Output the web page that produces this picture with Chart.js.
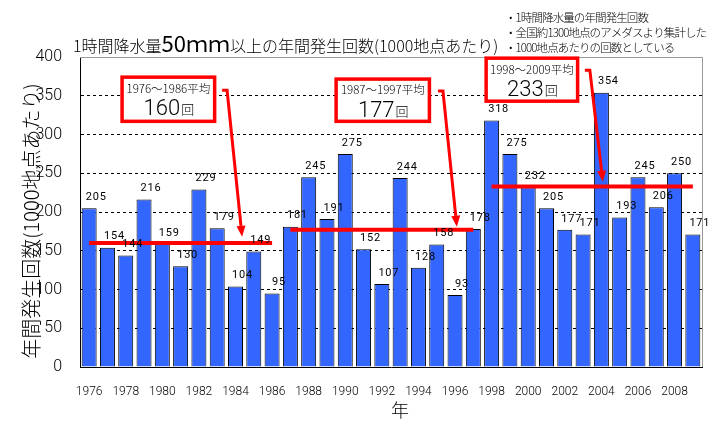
<!DOCTYPE html>
<html>
<head>
<meta charset="utf-8">
<script src="https://cdn.jsdelivr.net/npm/chart.js@4.4.0/dist/chart.umd.min.js"></script>
<style>
html, body { margin: 0; padding: 0; background: #fff; }
</style>
</head>
<body>
<canvas id="rainChart" width="714" height="441"></canvas>
<script>
const years = ['1976','1977','1978','1979','1980','1981','1982','1983','1984','1985','1986',
    '1987','1988','1989','1990','1991','1992','1993','1994','1995','1996','1997',
    '1998','1999','2000','2001','2002','2003','2004','2005','2006','2007','2008','2009'];
const counts = [205,154,144,216,159,130,229,179,104,149,95,
    181,245,191,275,152,107,244,128,158,93,178,
    318,275,232,205,177,171,354,193,245,206,250,171];

// period averages: first / last year index
const periodLabels = ['1976～1986平均', '1987～1997平均', '1998～2009平均'];
const periodAvg = [160, 177, 233];
const periodFrom = [0, 11, 22];
const periodTo = [10, 21, 33];

const notes = ['・1時間降水量の年間発生回数', '・全国約1300地点のアメダスより集計した', '・1000地点あたりの回数としている'];

// callout boxes and arrows, in scale units (category index, value)
const boxes = [
    { x0: 1.8, x1: 6.86, y0: 374, y1: 317, ax0: 7.54, ay0: 357, ax1: 8.36, ay1: 168 },
    { x0: 13.5, x1: 18.6, y0: 371.5, y1: 317, ax0: 19.34, ay0: 356, ax1: 20.1, ay1: 181 },
    { x0: 21.7, x1: 26.7, y0: 398.5, y1: 343, ax0: 27.37, ay0: 383, ax1: 28.08, ay1: 239 }
];

const jp = '"Noto Sans CJK JP", "Noto Sans", sans-serif';
const num = 'Roboto, "Liberation Sans", sans-serif';
Chart.defaults.font.family = num;
Chart.defaults.font.weight = '300';
Chart.defaults.color = '#000';

function avgSeries(p) {
    return years.map((y, i) => (i >= periodFrom[p] && i <= periodTo[p]) ? periodAvg[p] : null);
}

const extras = {
    id: 'extras',
    afterDatasetsDraw(chart) {
        const ctx = chart.ctx;
        const meta = chart.getDatasetMeta(0);
        ctx.save();
        ctx.font = '400 11px ' + num;
        ctx.fillStyle = '#000';
        ctx.textAlign = 'center';
        ctx.textBaseline = 'middle';
        if ('letterSpacing' in ctx) ctx.letterSpacing = '0.8px';
        meta.data.forEach((bar, i) => {
            ctx.fillText(String(counts[i]), bar.x + 7, bar.y - 11);
        });
        ctx.restore();
    },
    afterDraw(chart) {
        const ctx = chart.ctx;
        const a = chart.chartArea;
        const xs = chart.scales.x, ys = chart.scales.y;
        const px = v => xs.getPixelForValue(0) + v * (xs.getPixelForValue(1) - xs.getPixelForValue(0));
        ctx.save();

        // frame
        ctx.lineWidth = 1;
        ctx.strokeStyle = '#999';
        ctx.beginPath();
        ctx.moveTo(a.left, a.top + 0.5); ctx.lineTo(a.right + 0.5, a.top + 0.5);
        ctx.lineTo(a.right + 0.5, a.bottom);
        ctx.stroke();

        // title
        ctx.fillStyle = '#000';
        ctx.textBaseline = 'alphabetic';
        ctx.textAlign = 'left';
        let x = 73;
        const parts = [['1時間降水量', 16, '300 '], ['50ｍｍ', 22, ''], ['以上の年間発生回数(1000地点あたり)', 16, '300 ']];
        parts.forEach(p => {
            ctx.font = p[2] + p[1] + 'px ' + jp;
            ctx.fillText(p[0], x, 52);
            x += ctx.measureText(p[0]).width;
        });

        // notes
        ctx.font = '300 11.5px ' + jp;
        ctx.textBaseline = 'middle';
        if ('letterSpacing' in ctx) ctx.letterSpacing = '-0.9px';
        notes.forEach((t, i) => ctx.fillText(t, 505, 18 + i * 15));
        if ('letterSpacing' in ctx) ctx.letterSpacing = '0px';

        // y title
        ctx.save();
        ctx.translate(31, 221);
        ctx.rotate(-Math.PI / 2);
        ctx.textAlign = 'center';
        ctx.font = '300 20px ' + jp;
        ctx.fillText('年間発生回数(1000地点あたり)', 0, 0);
        ctx.restore();

        // x title
        ctx.textAlign = 'center';
        ctx.font = '300 18px ' + jp;
        ctx.fillText('年', 400, 410);

        // callouts
        boxes.forEach((b, i) => {
            const l = px(b.x0), r = px(b.x1);
            const t = ys.getPixelForValue(b.y0), bt = ys.getPixelForValue(b.y1);
            ctx.fillStyle = '#fff';
            ctx.fillRect(l, t, r - l, bt - t);
            ctx.strokeStyle = '#ff0000';
            ctx.lineWidth = 3.5;
            ctx.strokeRect(l, t, r - l, bt - t);

            const cx = (l + r) / 2;
            ctx.fillStyle = '#000';
            ctx.textAlign = 'center';
            ctx.font = '300 11.5px ' + jp;
            ctx.fillText(periodLabels[i], cx, t + 11);
            const big = String(periodAvg[i]);
            ctx.font = '300 22px ' + num;
            const w1 = ctx.measureText(big).width;
            ctx.font = '300 13px ' + jp;
            const w2 = ctx.measureText('回').width;
            let sx = cx - (w1 + w2) / 2;
            ctx.textAlign = 'left';
            ctx.textBaseline = 'alphabetic';
            ctx.font = '300 22px ' + num;
            ctx.fillText(big, sx, t + 38);
            ctx.font = '300 13px ' + jp;
            ctx.fillText('回', sx + w1 + 1, t + 37);
            ctx.textBaseline = 'middle';

            // arrow
            const x0 = px(b.ax0), y0 = ys.getPixelForValue(b.ay0);
            const x1 = px(b.ax1), y1 = ys.getPixelForValue(b.ay1);
            const ang = Math.atan2(y1 - y0, x1 - x0);
            const hl = 11, hw = 4.5;
            const bx = x1 - hl * Math.cos(ang), by = y1 - hl * Math.sin(ang);
            ctx.strokeStyle = '#ff0000';
            ctx.lineWidth = 3;
            ctx.beginPath();
            ctx.moveTo(x0 - 5, y0);
            ctx.lineTo(x0, y0);
            ctx.lineTo(bx, by);
            ctx.stroke();
            ctx.fillStyle = '#ff0000';
            ctx.beginPath();
            ctx.moveTo(x1, y1);
            ctx.lineTo(bx + hw * Math.sin(ang), by - hw * Math.cos(ang));
            ctx.lineTo(bx - hw * Math.sin(ang), by + hw * Math.cos(ang));
            ctx.closePath();
            ctx.fill();
        });
        ctx.restore();
    }
};

const ctx = document.getElementById('rainChart').getContext('2d');
const rainChart = new Chart(ctx, {
    type: 'bar',
    data: {
        labels: years,
        datasets: [
            {
                label: '年間発生回数',
                data: counts,
                backgroundColor: '#3366ff',
                borderColor: '#000',
                borderWidth: 1,
                categoryPercentage: 1,
                barPercentage: 0.82,
                order: 2
            },
            ...periodLabels.map((lab, p) => ({
                type: 'line',
                label: lab,
                data: avgSeries(p),
                borderColor: '#ff0000',
                borderWidth: 4,
                pointRadius: 0,
                spanGaps: false,
                order: 1
            }))
        ]
    },
    options: {
        responsive: false,
        animation: false,
        layout: { padding: { top: 57, right: 12, left: 0, bottom: 0 } },
        plugins: {
            legend: { display: false },
            tooltip: { enabled: false }
        },
        scales: {
            x: {
                offset: true,
                grid: { display: false },
                border: { color: '#000' },
                ticks: {
                    autoSkip: false,
                    maxRotation: 0,
                    padding: 10,
                    font: { size: 12, weight: '300' },
                    callback: (v, i) => i % 2 === 0 ? years[i] : ''
                },
                afterFit: s => { s.height = 74; }
            },
            y: {
                min: 0,
                max: 400,
                grid: { color: '#000', drawTicks: false },
                border: { display: true, color: '#000', dash: [3, 3] },
                ticks: {
                    stepSize: 50,
                    padding: 18,
                    font: { size: 16, weight: '300' }
                },
                afterFit: s => { s.width = 80; }
            }
        }
    },
    plugins: [extras]
});
</script>
</body>
</html>
